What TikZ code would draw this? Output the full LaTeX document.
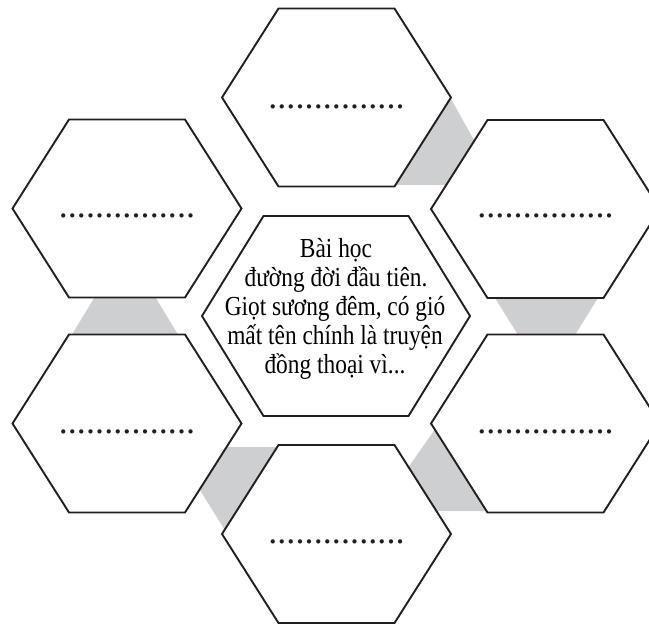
\documentclass[tikz,border=0pt]{standalone}
\usepackage{fontspec}
\setmainfont{Liberation Serif}
\newfontfamily\narrowserif[FakeStretch=0.85]{Liberation Serif}
\definecolor{bandgrey}{RGB}{205,207,209}
\definecolor{inkline}{RGB}{35,31,32}
\tikzset{
  hexline/.style={draw=inkline, line width=1.9pt, fill=white, line join=miter},
  band/.style={fill=bandgrey, draw=none},
  centertext/.style={anchor=base, inner sep=0pt, text=black,
    font=\narrowserif\fontsize{27.5}{29}\selectfont},
  blank/.style={anchor=base, inner sep=0pt, text=inkline,
    font=\fontsize{36}{36}\selectfont}
}
\newcommand\pdot{\makebox[9.1pt]{.}}
\newcommand\blankrow{\pdot\pdot\pdot\pdot\pdot\pdot\pdot\pdot\pdot\pdot\pdot\pdot\pdot\pdot\pdot}
% #1 name, #2 cx, #3 cy, #4 half width, #5 half height, #6 half of top edge
\newcommand\hexshape[6]{%
  \draw[hexline] (#2-#6,#3-#5) -- (#2+#6,#3-#5) -- (#2+#4,#3) -- (#2+#6,#3+#5)
    -- (#2-#6,#3+#5) -- (#2-#4,#3) -- cycle;
  \coordinate (#1) at (#2,#3);}
\begin{document}
\begin{tikzpicture}[x=1pt,y=-1pt]
\useasboundingbox (0,0) rectangle (649,624);
\clip (0,0) rectangle (649,624);
% grey bands behind the hexagons
\fill[band] (385,185) -- (440,100) -- (451,99) -- (482.4,155) -- (482.4,185) -- cycle;
\fill[band] (490,290) -- (603,290) -- (570.5,342) -- (522.5,342) -- cycle;
\fill[band] (99,290) -- (151,290) -- (182.5,342) -- (67.5,342) -- cycle;
\fill[band] (185,447) -- (290,447) -- (240,536) -- (228.5,536) -- (185,466) -- cycle;
\fill[band] (441.4,420) -- (495,420) -- (495,511) -- (420,511) -- (399.5,480) -- cycle;
% hexagons
\hexshape{top}{336.5}{97.5}{114.5}{89}{58}
\hexshape{topright}{545.5}{209}{114.5}{89}{58}
\hexshape{topleft}{127}{208.5}{114.5}{89}{58}
\hexshape{botleft}{127}{423.5}{114.5}{89}{58}
\hexshape{botright}{545.5}{423.5}{114.5}{89}{58}
\hexshape{bottom}{336.5}{534}{114.5}{89}{58}
\hexshape{centre}{336}{316}{134}{100}{72.5}
% placeholder dots
\node[blank] (dtop) at (336.5,108.5) {\blankrow};
\node[blank] (dtopright) at (545.5,217.5) {\blankrow};
\node[blank] (dtopleft) at (127,217.5) {\blankrow};
\node[blank] (dbotleft) at (127,433.5) {\blankrow};
\node[blank] (dbotright) at (545.5,433.5) {\blankrow};
\node[blank] (dbottom) at (336.5,543.5) {\blankrow};
% centre text
\node[centertext] (l1) at (336,257.5) {Bài học};
\node[centertext] (l2) at (336,286.5) {đường đời đầu tiên.};
\node[centertext] (l3) at (335,315.5) {Giọt sương đêm, có gió};
\node[centertext] (l4) at (335,344.5) {mất tên chính là truyện};
\node[centertext] (l5) at (335,373.5) {đồng thoại vì...};
\end{tikzpicture}
\end{document}
